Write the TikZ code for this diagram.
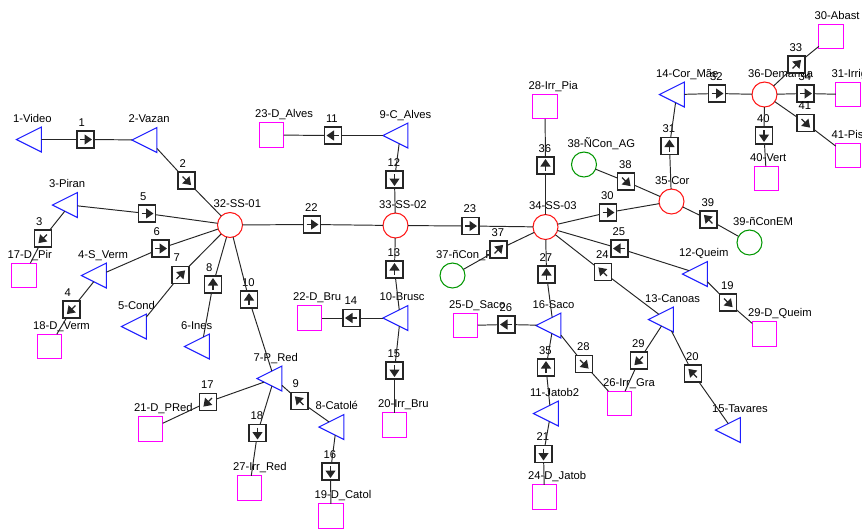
\documentclass[tikz,border=0pt]{standalone}
\usepackage{fontspec}
\setmainfont{Liberation Sans}
\usetikzlibrary{shapes.geometric,arrows.meta}
\definecolor{triblue}{RGB}{30,30,255}
\definecolor{sqmag}{RGB}{255,0,255}
\definecolor{ssred}{RGB}{255,20,20}
\definecolor{cngreen}{RGB}{0,150,0}
\newcommand{\lblfont}{\fontsize{6.4}{7}\selectfont}
\newcommand{\zerotag}[1]{\makebox[0pt][l]{\raisebox{0pt}[0pt][0pt]{#1}}}
\tikzset{
  nmlbl/.style={font=\lblfont, inner sep=0pt, xshift=-0.33cm, yshift=0.35cm},
  trilbl/.style={font=\lblfont, inner sep=0pt, xshift=-0.414cm, yshift=0.35cm},
  swlbl/.style={font=\lblfont, inner sep=0pt, xshift=-0.14cm, yshift=0.27cm},
  tri/.style={shape=isosceles triangle, isosceles triangle stretches, shape border rotate=180,
    draw=triblue, line width=0.6pt, minimum width=0.5cm, minimum height=0.5cm, inner sep=0pt, outer sep=0pt,
    label={[trilbl]center:\zerotag{#1}}},
  dem/.style={draw=sqmag, line width=0.6pt, minimum size=0.49cm, inner sep=0pt, outer sep=0pt,
    label={[nmlbl]center:\zerotag{#1}}},
  sub/.style={circle, draw=ssred, line width=0.6pt, minimum size=0.5cm, inner sep=0pt, outer sep=0pt,
    label={[nmlbl]center:\zerotag{#1}}},
  ncon/.style={circle, draw=cngreen, line width=0.6pt, minimum size=0.5cm, inner sep=0pt, outer sep=0pt,
    label={[nmlbl]center:\zerotag{#1}}},
  sw/.style 2 args={draw=black!85, line width=0.7pt, fill=white, minimum size=0.34cm, inner sep=0pt, outer sep=0pt,
    label={[swlbl]center:\zerotag{#1}},
    path picture={\draw[line width=0.7pt, -{Triangle[length=1.5mm,width=2mm]}, shift={(path picture bounding box.center)}]
      (#2+180:1.1mm) -- (#2:1.3mm);}},
  wire/.style={draw=black!85, line width=0.55pt}
}
\begin{document}
\begin{tikzpicture}[x=0.02cm, y=-0.02cm]
\useasboundingbox (0,0) rectangle (862,529);
% triangles
\node[tri=1-Video] (tVideo) at (33.7,139.5) {};
\node[tri=2-Vazan] (tVazan) at (149.2,140) {};
\node[tri=3-Piran] (tPiran) at (69.7,205) {};
\node[tri=4-S\_Verm] (tSVerm) at (98.7,275.5) {};
\node[tri=5-Cond] (tCond) at (138.7,326.5) {};
\node[tri=6-Ines] (tInes) at (201.7,346.5) {};
\node[tri=7-P\_Red] (tPRed) at (274.2,378.5) {};
\node[tri=8-Catolé] (tCatole) at (336.2,427) {};
\node[tri=9-C\_Alves] (tCAlves) at (400.2,135.5) {};
\node[tri=10-Brusc] (tBrusc) at (400.2,318) {};
\node[tri=11-Jatob2] (tJatob) at (550.7,413.5) {};
\node[tri=12-Queim] (tQueim) at (699.7,274) {};
\node[tri=13-Canoas] (tCanoas) at (665.7,319.5) {};
\node[tri=14-Cor\_Mãe] (tCorMae) at (676.7,94.5) {};
\node[tri=15-Tavares] (tTavares) at (732.7,430) {};
\node[tri=16-Saco] (tSaco) at (553.2,325.5) {};
% demands
\node[dem=17-D\_Pir] (sDPir) at (24,275.5) {};
\node[dem=18-D\_Verm] (sDVerm) at (49.5,346.5) {};
\node[dem=19-D\_Catol] (sDCatol) at (331,516) {};
\node[dem=20-Irr\_Bru] (sIrrBru) at (394.5,425) {};
\node[dem=21-D\_PRed] (sDPRed) at (150.5,429) {};
\node[dem=22-D\_Bru] (sDBru) at (309.5,318) {};
\node[dem=23-D\_Alves] (sDAlves) at (271.5,135) {};
\node[dem=24-D\_Jatob] (sDJatob) at (544.5,497) {};
\node[dem=25-D\_Saco] (sDSaco) at (465.5,325.5) {};
\node[dem=26-Irr\_Gra] (sIrrGra) at (619.5,403.5) {};
\node[dem=27-Irr\_Red] (sIrrRed) at (249.5,488) {};
\node[dem=28-Irr\_Pia] (sIrrPia) at (545,106.5) {};
\node[dem=29-D\_Queim] (sDQueim) at (764.5,334) {};
\node[dem=30-Abast] (sAbast) at (831,36.5) {};
\node[dem=31-Irrig] (sIrrig) at (848,94.5) {};
\node[dem=40-Vert] (sVert) at (766.5,178.5) {};
\node[dem=41-Pis] (sPis) at (848,155.5) {};
% junctions
\node[sub=32-SS-01] (cSS01) at (230,225) {};
\node[sub=33-SS-02] (cSS02) at (395.5,225.5) {};
\node[sub=34-SS-03] (cSS03) at (545.5,227) {};
\node[sub=35-Cor] (cCor) at (671.5,201.5) {};
\node[sub=36-Demanda] (cDemanda) at (764.5,94.5) {};
\node[ncon=37-ñCon\_Pi] (cConPi) at (452.5,275.5) {};
\node[ncon=38-ÑCon\_AG] (cConAG) at (584,164.5) {};
\node[ncon=39-ñConEM] (cConEM) at (749.5,242.5) {};
% switches
\node[sw={1}{0}] (b1) at (85.5,139.5) {};
\node[sw={2}{-45}] (b2) at (186.5,180.5) {};
\node[sw={3}{225}] (b3) at (43,238.5) {};
\node[sw={4}{225}] (b4) at (71.5,309.5) {};
\node[sw={5}{0}] (b5) at (147,213.5) {};
\node[sw={6}{0}] (b6) at (160.5,248.5) {};
\node[sw={7}{45}] (b7) at (180.5,275) {};
\node[sw={8}{90}] (b8) at (213,284.5) {};
\node[sw={9}{135}] (b9) at (299.5,401) {};
\node[sw={10}{90}] (b10) at (249,299.5) {};
\node[sw={11}{180}] (b11) at (333,135.5) {};
\node[sw={12}{270}] (b12) at (394.5,179.5) {};
\node[sw={13}{90}] (b13) at (394.5,269.5) {};
\node[sw={14}{180}] (b14) at (351.5,318) {};
\node[sw={15}{270}] (b15) at (394.5,370.5) {};
\node[sw={16}{270}] (b16) at (330.5,471.5) {};
\node[sw={17}{225}] (b17) at (208,402) {};
\node[sw={18}{270}] (b18) at (257.5,433) {};
\node[sw={19}{-45}] (b19) at (728,302.5) {};
\node[sw={20}{135}] (b20) at (693,373.5) {};
\node[sw={21}{270}] (b21) at (543.5,454) {};
\node[sw={22}{0}] (b22) at (312,224.5) {};
\node[sw={23}{0}] (b23) at (470.5,226) {};
\node[sw={24}{135}] (b24) at (603,272) {};
\node[sw={25}{180}] (b25) at (619.5,248.5) {};
\node[sw={26}{180}] (b26) at (506.5,324.5) {};
\node[sw={27}{90}] (b27) at (546.5,274.5) {};
\node[sw={28}{-45}] (b28) at (584,364) {};
\node[sw={29}{225}] (b29) at (639,360.5) {};
\node[sw={30}{0}] (b30) at (608,212.5) {};
\node[sw={31}{90}] (b31) at (669.5,146) {};
\node[sw={32}{0}] (b32) at (717,93.5) {};
\node[sw={33}{45}] (b33) at (796.5,64.5) {};
\node[sw={34}{0}] (b34) at (805.5,93.5) {};
\node[sw={35}{90}] (b35) at (546,367.5) {};
\node[sw={36}{90}] (b36) at (545.5,165.5) {};
\node[sw={37}{45}] (b37) at (498.5,249.5) {};
\node[sw={38}{-45}] (b38) at (626,181.5) {};
\node[sw={39}{135}] (b39) at (708.5,219.5) {};
\node[sw={40}{270}] (b40) at (764,135.5) {};
\node[sw={41}{-45}] (b41) at (805.5,123) {};
% connections
\path[wire] (tVideo) -- (b1) -- (tVazan);
\path[wire] (tVazan) -- (b2) -- (cSS01);
\path[wire] (tPiran) -- (b5) -- (cSS01);
\path[wire] (tPiran) -- (b3) -- (sDPir);
\path[wire] (tSVerm) -- (b6) -- (cSS01);
\path[wire] (tSVerm) -- (b4) -- (sDVerm);
\path[wire] (tCond) -- (b7) -- (cSS01);
\path[wire] (tInes) -- (b8) -- (cSS01);
\path[wire] (tPRed) -- (b10) -- (cSS01);
\path[wire] (tPRed) -- (b17) -- (sDPRed);
\path[wire] (tPRed) -- (b18) -- (sIrrRed);
\path[wire] (tPRed) -- (b9) -- (tCatole);
\path[wire] (tCatole) -- (b16) -- (sDCatol);
\path[wire] (cSS01) -- (b22) -- (cSS02);
\path[wire] (tCAlves) -- (b11) -- (sDAlves);
\path[wire] (tCAlves) -- (b12) -- (cSS02);
\path[wire] (cSS02) -- (b13) -- (tBrusc);
\path[wire] (tBrusc) -- (b14) -- (sDBru);
\path[wire] (tBrusc) -- (b15) -- (sIrrBru);
\path[wire] (cSS02) -- (b23) -- (cSS03);
\path[wire] (cSS03) -- (b36) -- (sIrrPia);
\path[wire] (cSS03) -- (b37) -- (cConPi);
\path[wire] (cSS03) -- (b30) -- (cCor);
\path[wire] (cSS03) -- (b25) -- (tQueim);
\path[wire] (cSS03) -- (b24) -- (tCanoas);
\path[wire] (cSS03) -- (b27) -- (tSaco);
\path[wire] (tSaco) -- (b26) -- (sDSaco);
\path[wire] (tSaco) -- (b28) -- (sIrrGra);
\path[wire] (tSaco) -- (b35) -- (tJatob);
\path[wire] (tJatob) -- (b21) -- (sDJatob);
\path[wire] (tCanoas) -- (b29) -- (sIrrGra);
\path[wire] (tCanoas) -- (b20) -- (tTavares);
\path[wire] (tQueim) -- (b19) -- (sDQueim);
\path[wire] (cConAG) -- (b38) -- (cCor);
\path[wire] (cCor) -- (b31) -- (tCorMae);
\path[wire] (cCor) -- (b39) -- (cConEM);
\path[wire] (tCorMae) -- (b32) -- (cDemanda);
\path[wire] (cDemanda) -- (b33) -- (sAbast);
\path[wire] (cDemanda) -- (b34) -- (sIrrig);
\path[wire] (cDemanda) -- (b41) -- (sPis);
\path[wire] (cDemanda) -- (b40) -- (sVert);
\end{tikzpicture}
\end{document}
